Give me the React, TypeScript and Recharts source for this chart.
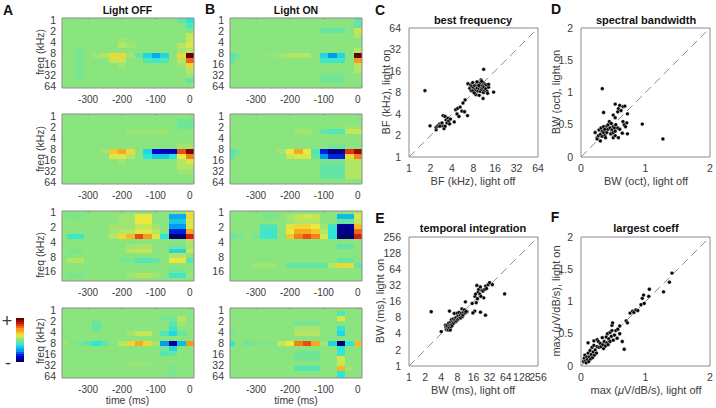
import React from 'react';
import {
  ComposedChart,
  ScatterChart,
  Scatter,
  XAxis,
  YAxis,
  ReferenceArea,
  ReferenceLine,
} from 'recharts';

// heatmap values are in tenths of the colour range, -10 (navy) .. 10 (dark red)
const timeCenters = [-375, -350, -325, -300, -275, -250, -225, -200, -175, -150, -125, -100, -75, -50, -25, 0];
const timeTicks = [-300, -200, -100, 0];
const freqLabels = ['1', '2', '4', '8', '16', '32', '64'];
const freqTickPos = [0.4, 2.6, 4.8, 7.0, 9.3, 11.5, 13.7];
const shortFreqLabels = ['1', '2', '4', '8', '16'];
const shortFreqTickPos = [0.2, 3.25, 6.3, 9.28, 12.2];

const offCellA = [
  [0, 0, 0, 0, 0, 0, 0, 0, 0, 0, 0, 0, 0, 0, -1, -2.5],
  [0, 0, 0, 0, 0, 0, 0, 0, 0, 0, 0, 0, 0, 0, 0, -1.5],
  [0, 0, 0, 0, 0, 0, 0, 0, 0, 0, 0, 0, 0, 0, 0, -0.5],
  [0, 0, 0, 0, 0, 0, 0, 0, 0, 0, 0, 0, 0, 0, 0, 1.5],
  [0, 0, 0, 0, 0, 0, 0, 0.5, 0, 0, 0, 0, 0, 0, 0, 1.5],
  [0, 0, -0.3, 0, 0, 0, 0, 1, 0.5, 0, 0, 0, 0, 0, 1, 2],
  [0, 0, -0.5, 0, 0, 0, 0, 0, 0, 0, 0, 0, 0, 0, 0.5, 1],
  [0, 0, -0.5, 0, 0.5, 1, 3, 3, 0.5, -1, -3, -4.5, -3, 0, 3, 10],
  [0, 0, -0.5, 0, 0, 0, 1.5, 1.5, 0, 0, -1.5, -2, -1.5, 0, 1, 6],
  [0, 0, -0.5, 0, 0, 0, 0, 0.5, 0, 0, 0, 0, 0, 0, 0.5, 3],
  [0, 0, -0.5, 0, 0, 0, 0, 0, 0, 0, 0, 0, 0, 0, 0, 1],
  [0, 0, -0.5, 0, 0, 0, 0, 0, 0, 0, 0, 0, 0, 0, 0, 0.5],
  [0, 0, 0, 0, 0, 0, 0, 0, 0, 0, 0, 0, 0, 0, 0, -1],
  [0, 0, 0, 0, 0, 0, 0, 0, 0, 0, 0, 0, 0, 0, 0, 0],
];
const offCellB = [
  [0, 0, 0, 0, 0, 0, 0, 0, 0, 0, 0, 0, 0, 0, 0, 0],
  [0, 0, 0, 0, 0, 0, 0, 0, 0, 0, 0, 0, 0, 0, -0.7, -0.7],
  [0, 0, 0, 0, 0, 0, 0, 0, 0, 0, 0, 0, 0, 0, -0.7, -0.7],
  [0, 0, 0, 0, 0, 0, 0, 0, 0.4, 0.4, 0.4, 0.4, 0.4, 0, 0, 0],
  [0, 0, 0, 0, 0, 0, 0, 0, 0, 0, 0, 0, 0, 0, 0, 0],
  [0, 0, 0, 0, 0, 0, 0, 0, 0, 0, 0, 0, 0, 0, 0, 0],
  [0, 0, 0, 0, 0, 0, 0, 0, 0, 0, 0, 0, 0, 0, 0.5, 0.5],
  [0, 0, 0, 0, 0, 0.5, 3.5, 4.5, 3, 0, -3, -7.5, -8, -8, 6.5, 9.5],
  [0, 0, 0, 0, 0, 0, 2, 2, 1, 0, -2.5, -3.5, -3.5, -2.5, 2.5, 5.5],
  [0, 0, 0, 0, 0, 0, 0, 0.5, 0, 0, 0, 0, 0, 0, 1, 2],
  [0, 0, 0, 0, 0, 0, 0, 0, 0, 0, 0, 0, 0, 0, 1, 1],
  [0, 0, 0, 0, 0, 0, 0, 0, 0, 0, 0, 0, 0, 0, 0.5, 0.5],
  [0, 0, 0, 0, 0, 0, 0, 0, 0, 0, 0, 0, 0, 0, 0, 0],
  [0, 0, 0, 0, 0, 0, 0, 0, 0, 0, 0, 0, 0, 0, 0, 0],
];
const offCellC = [
  [0, 0, 0, 0, 0, 0, 0, 0, 0, 0, 0, 0, 0, 0, 0, 2],
  [0, -0.5, -0.5, 0, 0, 0, 0, 0.5, 0.5, 2.5, 2.5, 0, 0, -4.5, -4.5, 3],
  [0, 0, 0, 0, 0, 0, 0, 0.5, 0.5, 2.5, 2.5, 0, 0, -3.5, -3.5, 2],
  [0, 0, 0, 0, 0, 0, 0.5, 0.5, 0.5, 1.5, 1.5, 0.5, 0, -5, -5, 2],
  [0, 0, 0, 0, 0, 0, 0.7, 1, 1, 2, 2, 1, 0, -7, -7, 4.5],
  [0, -2, -2, 0, 0, 0, 1, 3, 4, 6.5, 5, 2, -2.5, -10, -10, 7.5],
  [0, 0, 0, 0, 0, 0, 0, 0, 0, 0, 0, 0, 0, 0, 0, 1],
  [0, 0, 0, 0, 0, 0, 0, 0, 0.5, 0.7, 0.7, 0, 0, -0.5, -0.5, 0.5],
  [0, -0.5, -0.5, 0, 0, 0, 0, 0, 1, 1.5, 1.5, 0, 0, -3, -3, 1.5],
  [0, 0, 0, 0, 0, 0, 0, 0, 0, 0, 0, 0, 0, 1, 1, 0],
  [0, 1, 1, 0, 0, 0, 0, -0.5, -0.5, -1.5, -1.5, -1, 0, 2.5, 2.5, -1.5],
  [0, 0, 0, 0, 0, 0, 0, 0, 0, 0, 0, 0, 0, 0, 0, 0],
  [0, 0, 0, 0, 0, 0, 0, 0, 0, 0, 0, 0, 0, -0.5, -0.5, 0],
  [0, -0.5, -0.5, 0, 0, 0, 0, 0, 0.5, 1, 1, 0.5, 0, -2, -2, 0.3],
  [0, 0, 0, 0, 0, 0, 0, 0, 0, 0, 0, 0, 0, 0, 0, 0],
];
const offCellD = [
  [0, 0, 0, 0, 0, 0, 0, 0, 0, 0, 0, 0, 0, 0, 0, 0],
  [0, 0, 0, 0, 0, 0, 0, 0, 0, 0, 0, 0, 0, 0, 0, 0],
  [0, 0, 0, 0, 0, 0, 0, 0, 0, 0, 0, 0, -0.5, -0.5, 1, 0],
  [0, 0, 0, 0, -1, 0, 0, 0, 0, 0, 0, 0, 0, -1, 0.5, 0],
  [0, 0, 0, 0, -1, 0, 0, 0, 0, 0, 0, 0, 0, -2, 0, 0],
  [0, 0, 0, 0, 0, 0, 0, 0, 0.5, 1.5, 1.5, 0, -1.5, -3, -1, 0],
  [0, 0, 0, 0, 0, 0, 0, 0, 0, 0, 0, 0, 0, 0, 0, 0],
  [0.5, 0, -0.5, -1, -2.5, -1, 0, 1, 3, 4.5, 3, 0.5, -5, -9, -4, 5],
  [0, 0, 0, 0, 0, 0, 0, 0, 0, 0, 0, 0, -0.5, -3, 0, 0],
  [0, 0, 0, 0, 0, 0, 0, 0, 0, 0, 0, 0, -1.5, -1, 0, 0],
  [0, 0, 0, 0, 0, 0, 0, 0, 0, 0, 0, 0, 0, 0, 0, 0],
  [0, 0, 0, 0, 0, 0, 0, 0, 0.3, 0.3, 0.3, 0, 0, 0, 0, 0],
  [0, 0, 0, 0, 0, 0, 0, 0, 0, 0, 0, 0, 0, -0.5, 0, 0],
  [0, 0, 0, 0, 0, 0, 0, 0, 0, 0, 0, 0, 0, -0.5, 0, 0],
];
const onCellA = [
  [0, 0, 0, 0, 0, 0, 0, 0, 0, 0, 0, 0, 0, 0, 0, -1],
  [0, 0, 0, 0, 0, 0, 0, 0, 0, 0, 0, 0, 0, 0, 0, -1],
  [0, 0, 0, 0, 0, 0, 0, 0, 0, 0, 0, -1, -1, -1, 0, 1.5],
  [0, 0, 0, 0, 0, 0, 0, 0, 0, 0, 0, 0, 0, 0, 0, 1],
  [0, 0, 0, 0, 0, 0, 0, 0, 0, 0, 0, 0, 0, 0, 0, 0],
  [0, 0, 0, 0, 0, 0, 0, 0, 0, 0, 0, 0, 0, 0, 0, 0],
  [0, 0, 0, 0, 0, 0, 0, 0, 0, 0, 0, 0, 0, 0, 0, 1],
  [-1.5, -0.5, 0, 0, 0.2, 0.2, 0.5, 1, 1, 1, 0, -3, -5, -3, 0, 10],
  [-1, 0, 0, 0, 0, 0, 0, 0, 0, 0, 0, -2, -2, -2, 0, 5],
  [0, 0, 0, 0, 0, 0, 0, 0, 0, 0, 0, 0, 0, 0, 0, 1],
  [0, 0, 0, 0, 0, 0, 0, 0, 0, 0, 0, 0, 0, 0, 0, 1],
  [0, 0, 0, 0, 0, 0, 0, 0, 0, 0, 0, -0.5, -0.5, -0.5, 0, 0],
  [0, 0, 0, 0, 0, 0, 0, 0, 0, 0, 0, -0.7, -0.7, -0.7, 0, 0],
  [0, 0, 0, 0, 0, 0, 0, 0, 0, 0, 0, 0, 0, 0, 0, 0],
];
const onCellB = [
  [0, 0, 0, 0, 0, 0, 0, 0, 0, 0, 0, 0, 0, 0, 0, 0],
  [0, 0, 0, 0, 0, 0, 0, 0, 0, 0, 0, 0, 0, 0, 0, 0],
  [0, 0, 0, 0, 0, 0, 0, 0, 0, 0, 0, 0, 0, 0, 0.3, 0.3],
  [0, 0, 0, 0, 0, 0, 0, 0, 0.5, 0.5, 0, -1, -1.5, -1.5, 1.5, 1.5],
  [0, 0, 0, 0, 0, 0, 0, 0, 0, 0, 0, 0, 0, 0, 0, 0],
  [0, 0, 0, 0, 0, 0, 0, 0, 0, 0, 0, 0, 0, 0, 0, 0],
  [0, 0, 0, 0, 0, 0, 0, 0, 0, 0, 0, 0, -0.5, -0.5, 0, 0],
  [-1.5, -0.5, 0, 0, 0, 0, 0.5, 2.5, 4.5, 2.5, -1.5, -7, -9.5, -9.5, 7, 9],
  [-1, 0, 0, 0, 0, 0, 0, 1.5, 2, 2, -1, -5, -7, -7, 3, 5.5],
  [0, 0, 0, 0, 0, 0, 0, 0, 0, 0, 0, -0.5, -0.5, -0.5, 1, 1],
  [0, 0, 0, 0, 0, 0, 0, 0, 0, 0, 0, -1, -1, -1, 1, 1],
  [0, 0, 0, 0, 0, 0, 0, 0, 0, 0, 0, -1, -1, -1, 1, 1],
  [0, 0, 0, 0, 0, 0, 0, 0, 0, 0, 0, -1, -1, -1, 1, 1],
  [0, 0, 0, 0, 0, 0, 0, 0, 0, 0, 0, 0, 0, 0, 0, 0],
];
const onCellC = [
  [0, 0, 0, 0, 0, 0, 0, 0, 0, 0, 0, 0, 0, 0, 0, 1],
  [0, 0, 0, 0, -0.5, -0.5, 0, 0.7, 1.5, 1.7, 1.5, 0, 0, -4, -4, 2],
  [0, 0, 0, 0, 0, 0, 0, 0.5, 1, 1, 1, 0, 0, -1, -1, 1.5],
  [0, 0, 0, 0, -1.5, -1.5, 0, 2, 3, 3, 2.5, 0.5, -2, -9, -9, 4],
  [0, 0, 0, 0, -2, -2, 0, 2.5, 4.5, 4.5, 3.5, 1, -2.5, -9.5, -9.5, 6],
  [-1, -0.5, 0, -0.5, -2, -2, 0, 3.5, 5.5, 6.5, 5.5, 2, -2.5, -10, -10, 7.5],
  [0, 0, 0, 0, 0, 0, 0, 0, 0, 0, 0, 0, 0, 0, 0, 0],
  [0, 0, 0, 0, 0, 0, 0, 0, 0, 0, 0, 0, 0, -1, -1, 0],
  [0, 0, 0, 0, 0, 0, 0, 0, 0, 0, 0, 0, 0, 0, 0, 0],
  [0, 0, 0, 0, 0, 0, 0, 0, 0, 0, 0, 0, 0, 0, 0, 0],
  [0, 0, 0, 0, 0, 0, 0, 0, 0, 0, 0, 0, 0, -1, -1, 0],
  [0, 0, 0, 0.5, 0.5, 0.5, 0, -1, -1, -1, -1, -1, 1, 3, 3, -1],
  [0, 0, 0, 0, 0, 0, 0, 0, 0, 0, 0, 0, 0, 0, 0, 0],
  [0, 0, 0, 0, 0, 0, 0, 0, 0, 0, 0, 0, 0, 0, 0, 0],
  [0, 0, 0, 0, 0, 0, 0, 0, 0, 0, 0, 0, 0, 0, 0, 0],
];
const onCellD = [
  [0, 0, 0, 0, 0, 0, 0, 0, 0, 0, 0, 0, 0, 0, 0, 0],
  [0, 0, 0, 0, 0, 0, 0, 0, 0, 0, 0, 0, 0, -1.5, 0, 0],
  [0, 0, 0, 0, 0, 0, 0, 0, 0, 0, 0, 0, 0, 2, 0, 0],
  [0, 0, 0, 0, 0, 0, 0, 0, -0.5, -0.5, -0.5, 0, 0, 0, 0, 0],
  [0, 0, 0, 0, 0, 0, 0, 0, 0.7, 0.7, 0.7, 0, 0, -2.5, 0, 0],
  [-0.5, 0, 0, 0, 0, 0, 0, 0, 1, 1, 1, 0, 0, -3, 0, 0],
  [0, 0, 0, 0, 0, 0, 0, 0, 0, 0, 0, 0, 0, 0, 0, 0],
  [-2.5, 0, -0.8, -0.3, -0.3, -0.3, 1.5, 2.5, 5.5, 6.5, 4.5, 0.5, -3, -10, -2.5, 4],
  [0, 0, 0, 0, 0, 0, 0, 0, 0, 0, 0, 0, 0, -2.5, 0, 0],
  [0, 0, 0, 0, 0, 0, 0, 0, -0.7, -0.7, -0.7, 0, 0, -2, 0, 0],
  [0, 0, 0, 0, 0, 0, 0, 0, -0.7, -0.7, -0.7, 0, 0, 2, 0, 0],
  [0, 0, 0, 0, 0, 0, 0, 0, 0, 0, 0, 0, 0, 1.5, 0, 0],
  [0, 0, 0, 0, 0, 0, 0, 0, -1.5, -1.5, -1.5, 0, 0, 4, 0.5, 0],
  [0, 0, 0, 0, 0, 0, 0, 0, 0, 0, 0, 0, 0, -2.5, 0, 0],
];
const colorbarLevels = [-10, -9, -8, -7, -6, -5, -4, -3, -2, -1, 0, 1, 2, 3, 4, 5, 6, 7, 8, 9, 10];

const octTicks = [1, 2, 4, 8, 16, 32, 64];
const msTicks = [1, 2, 4, 8, 16, 32, 64, 128, 256];
const bwTicks = [0, 0.5, 1, 1.5, 2];
const bwXTicks = [0, 1, 2];

const bfOff = [1.67, 1.97, 11.1, 15.3, 10.9, 2.4, 2.4, 2.5, 2.6, 2.7, 2.8, 2.9, 3.0, 3.1, 3.2, 3.0, 3.2, 3.3, 3.4, 3.5, 3.6, 3.7, 2.7, 3.8, 4.3, 4.5, 4.7, 4.8, 5.0, 5.2, 5.5, 5.7, 6.0, 6.1, 6.6, 6.7, 7.1, 7.3, 7.4, 7.6, 7.8, 8, 8, 8.3, 8.5, 8.6, 8.8, 8.9, 9, 9.2, 9.4, 9.6, 9.6, 9.8, 10, 10, 10.2, 10.4, 10.6, 10.8, 11, 11, 11.2, 11.5, 11.7, 11.9, 12.2, 12.4, 12.6, 13, 13, 7.8, 8.2, 9, 9.5, 10.4];
const bfOn = [8.5, 2.73, 16.9, 8.1, 6.6, 2.4, 2.6, 2.7, 2.8, 2.9, 2.8, 3.0, 2.7, 2.5, 2.7, 3.8, 3.7, 3.3, 3.0, 3.5, 3.2, 2.9, 2.7, 3.4, 3.1, 4.6, 4.0, 4.8, 3.7, 5.0, 4.4, 5.7, 4.3, 6.3, 3.8, 10.6, 9.2, 10.2, 8.5, 9.8, 11, 8.2, 9.4, 10, 8.8, 7.5, 11.1, 10, 9.2, 8.4, 10.3, 7.3, 9.1, 10.6, 8.3, 9.6, 12, 8.8, 10, 9.2, 8, 11, 9.6, 8.6, 10.4, 9, 10.2, 8.3, 7.8, 9.5, 10.4, 8.4, 7.9, 11.3, 10, 11.5];

const sbwOff = [0.33, 0.35, 0.95, 1.27, 0.53, 0.58, 0.6, 0.57, 0.62, 0.65, 0.68, 0.72, 0.5, 0.53, 0.71, 0.67, 0.65, 0.69, 0.72, 0.64, 0.58, 0.5, 0.53, 0.47, 0.22, 0.25, 0.25, 0.27, 0.28, 0.3, 0.3, 0.31, 0.33, 0.33, 0.35, 0.35, 0.37, 0.37, 0.38, 0.4, 0.4, 0.42, 0.42, 0.44, 0.45, 0.46, 0.47, 0.48, 0.5, 0.5, 0.52, 0.53, 0.54, 0.57, 0.6];
const sbwOn = [1.06, 0.69, 0.51, 0.28, 0.82, 0.75, 0.8, 0.7, 0.72, 0.78, 0.79, 0.67, 0.65, 0.61, 0.53, 0.5, 0.55, 0.47, 0.36, 0.37, 0.3, 0.3, 0.33, 0.36, 0.38, 0.3, 0.28, 0.33, 0.42, 0.25, 0.35, 0.45, 0.4, 0.32, 0.38, 0.47, 0.33, 0.43, 0.3, 0.38, 0.48, 0.5, 0.43, 0.55, 0.45, 0.36, 0.52, 0.42, 0.47, 0.38, 0.45, 0.4, 0.5, 0.45, 0.43];

const tiOff = [2.6, 61, 26.8, 21.6, 16.9, 15.6, 24.9, 11.3, 15.1, 5.7, 12.1, 4, 4.8, 4.9, 5, 5.1, 5.3, 5.4, 5.5, 5.6, 5.8, 5.9, 6, 6.1, 6.2, 6.3, 6.4, 6.6, 6.7, 6.8, 7, 7.1, 7.3, 7.5, 7.7, 7.9, 8, 8.2, 8.4, 8.6, 8.8, 9, 9.2, 9.5, 9.7, 9.9, 10.2, 10.4, 10.8, 11.2, 11.6, 17, 17.5, 18, 18.5, 19, 19.5, 20, 21, 21.5, 22, 23, 24, 26, 27, 28, 30, 32, 36];
const tiOn = [10.3, 22.2, 8.9, 10.1, 10.6, 9.8, 18.7, 15.8, 14.7, 10.6, 10.3, 4.4, 5.8, 5.3, 4.8, 5.6, 5, 4.7, 6.3, 5.2, 5.8, 4.7, 6.6, 5.4, 7.3, 6, 5.7, 6.8, 7.6, 6.3, 9.6, 7.2, 6.7, 8, 6.9, 9.7, 7.3, 8.6, 7.6, 10, 8, 8.8, 7.9, 9.6, 11.7, 8.4, 9, 10.1, 11.2, 9.8, 10.4, 20, 22, 15.2, 32, 18, 24, 27, 22, 30, 20, 26, 25, 27, 31, 28, 33, 36, 33];

const coefOff = [0.04, 0.05, 0.06, 0.07, 0.08, 0.09, 0.1, 0.11, 0.11, 0.12, 0.13, 0.14, 0.15, 0.16, 0.17, 0.18, 0.19, 0.2, 0.2, 0.21, 0.22, 0.24, 0.25, 0.25, 0.27, 0.28, 0.3, 0.31, 0.33, 0.34, 0.35, 0.36, 0.38, 0.39, 0.4, 0.41, 0.42, 0.43, 0.45, 0.45, 0.47, 0.48, 0.49, 0.48, 0.5, 0.52, 0.54, 0.56, 0.57, 0.6, 0.6, 0.64, 0.67, 0.7, 0.72, 0.76, 0.8, 0.82, 0.85, 0.88, 0.93, 0.95, 0.97, 0.98, 1.05, 1.06, 1.28, 1.37, 1.41];
const coefOn = [0.07, 0.12, 0.17, 0.08, 0.05, 0.14, 0.1, 0.36, 0.2, 0.07, 0.14, 0.24, 0.11, 0.18, 0.29, 0.13, 0.22, 0.32, 0.39, 0.17, 0.25, 0.2, 0.41, 0.3, 0.38, 0.29, 0.35, 0.3, 0.44, 0.33, 0.27, 0.38, 0.31, 0.45, 0.36, 0.5, 0.33, 0.42, 0.52, 0.38, 0.46, 0.63, 0.67, 0.55, 0.4, 0.48, 0.55, 0.43, 0.57, 0.62, 0.5, 0.38, 0.26, 0.7, 0.67, 0.82, 0.85, 0.83, 0.87, 0.86, 0.95, 1.05, 1.1, 0.97, 1.08, 1.19, 1.15, 1.3, 1.44];

const FONT = '"Liberation Sans", Arial, sans-serif';
const INK = '#3c3c3c';
const FRAME = '#8c8c8c';

// muted jet, the source image is a bit washed out
const jetStops = ['#00006e', '#0000d8', '#009cf0', '#2ce6dc', '#8be57e', '#ece83c', '#f89a1c', '#e01a0c', '#640000'];

function jet(tenths: number) {
  const t = (Math.max(-10, Math.min(10, tenths)) + 10) / 20;
  const p = t * (jetStops.length - 1);
  const i = Math.min(Math.floor(p), jetStops.length - 2);
  const f = p - i;
  const hex = (s: string, k: number) => parseInt(s.slice(1 + k * 2, 3 + k * 2), 16);
  const ch = (k: number) => Math.round(hex(jetStops[i], k) * (1 - f) + hex(jetStops[i + 1], k) * f);
  return `rgb(${ch(0)},${ch(1)},${ch(2)})`;
}

const Txt = ({ x, y, children, size = 11, bold = false, rotate = false }: any) => (
  <div
    style={{
      position: 'absolute',
      left: x,
      top: y,
      transform: `translate(-50%, -50%)${rotate ? ' rotate(-90deg)' : ''}`,
      fontFamily: FONT,
      fontSize: size,
      fontWeight: bold ? 700 : 400,
      color: bold ? '#111' : INK,
      whiteSpace: 'nowrap',
      lineHeight: 1,
    }}
  >
    {children}
  </div>
);

const X_MIN = -377;
const X_MAX = 12.5;

interface HeatProps {
  left: number;
  top: number;
  matrix: number[][];
  yDomain: [number, number];
  rowShift: number;
  tickPos: number[];
  tickLabels: string[];
}

function Heat({ left, top, matrix, yDomain, rowShift, tickPos, tickLabels }: HeatProps) {
  const yw = 30;
  return (
    <div style={{ position: 'absolute', left: left - yw, top: top - 4 }}>
      <ComposedChart width={yw + 132 + 4} height={4 + 70 + 20} margin={{ top: 4, right: 4, left: 0, bottom: 0 }} data={[]}>
        <XAxis
          type="number"
          dataKey="t"
          domain={[X_MIN, X_MAX]}
          ticks={timeTicks}
          interval={0}
          height={20}
          axisLine={false}
          tickLine={false}
          tickMargin={2}
          tick={{ fontSize: 10, fill: INK, fontFamily: FONT }}
          allowDataOverflow
        />
        <YAxis
          type="number"
          reversed
          domain={yDomain}
          ticks={tickPos}
          interval={0}
          width={yw}
          axisLine={false}
          tickLine={false}
          tickMargin={0}
          tickFormatter={(v: number) => tickLabels[tickPos.indexOf(v)]}
          tick={{ fontSize: 10.5, fill: INK, fontFamily: FONT }}
          allowDataOverflow
        />
        {matrix.map((row, r) =>
          row.map((v, c) => (
            <ReferenceArea
              key={`${r}-${c}`}
              x1={Math.max(X_MIN, timeCenters[c] - 12.5)}
              x2={Math.min(X_MAX, timeCenters[c] + 12.5)}
              y1={Math.max(yDomain[0], r + rowShift)}
              y2={r === matrix.length - 1 ? yDomain[1] : Math.min(yDomain[1], r + rowShift + 1)}
              fill={jet(v)}
              fillOpacity={1}
              stroke="none"
              shapeRendering="crispEdges"
            />
          )),
        )}
        {timeTicks.map((t) => (
          <ReferenceLine
            key={t}
            segment={[
              { x: t, y: yDomain[0] },
              { x: t, y: yDomain[0] + 0.25 },
            ]}
            stroke="#5f7f5f"
            strokeWidth={0.7}
          />
        ))}
        <ReferenceArea x1={X_MIN} x2={X_MAX} y1={yDomain[0]} y2={yDomain[1]} fill="none" stroke={FRAME} strokeWidth={1} />
      </ComposedChart>
    </div>
  );
}

const Dot = ({ cx, cy }: any) => <circle cx={cx} cy={cy} r={1.9} fill="#000" stroke="#fff" strokeWidth={0.4} />;

interface ScatterProps {
  left: number;
  top: number;
  xs: number[];
  ys: number[];
  log?: boolean;
  domain: [number, number];
  xTicks: number[];
  yTicks: number[];
}

function Dots({ left, top, xs, ys, log, domain, xTicks, yTicks }: ScatterProps) {
  const yw = 28;
  const pts = xs.map((x, i) => ({ x, y: ys[i] }));
  const scale = log ? 'log' : 'linear';
  return (
    <div style={{ position: 'absolute', left: left - yw, top: top - 6 }}>
      <ScatterChart width={yw + 129 + 6 + 6} height={6 + 129 + 20} margin={{ top: 6, right: 12, left: 0, bottom: 0 }}>
        <XAxis
          type="number"
          dataKey="x"
          scale={scale}
          domain={domain}
          ticks={xTicks}
          interval={0}
          height={20}
          axisLine={false}
          tickLine={false}
          tickMargin={2}
          tick={{ fontSize: 10.5, fill: INK, fontFamily: FONT }}
          allowDataOverflow
        />
        <YAxis
          type="number"
          dataKey="y"
          scale={scale}
          domain={domain}
          ticks={yTicks}
          interval={0}
          width={yw}
          axisLine={false}
          tickLine={false}
          tickMargin={2}
          tick={{ fontSize: 10.5, fill: INK, fontFamily: FONT }}
          allowDataOverflow
        />
        <ReferenceLine
          segment={[
            { x: domain[0], y: domain[0] },
            { x: domain[1], y: domain[1] },
          ]}
          stroke="#8f8f8f"
          strokeWidth={1}
          strokeDasharray="8 5"
        />
        <Scatter data={pts} shape={Dot} isAnimationActive={false} />
        <ReferenceArea x1={domain[0]} x2={domain[1]} y1={domain[0]} y2={domain[1]} fill="none" stroke={FRAME} strokeWidth={1} />
      </ScatterChart>
    </div>
  );
}

function Colorbar() {
  return (
    <div style={{ position: 'absolute', left: 16, top: 318 }}>
      <ComposedChart width={8} height={44} margin={{ top: 0, right: 0, left: 0, bottom: 0 }} data={[]}>
        <XAxis type="number" dataKey="t" hide domain={[0, 1]} allowDataOverflow />
        <YAxis type="number" hide domain={[-10.5, 10.5]} allowDataOverflow />
        {colorbarLevels.map((v) => (
          <ReferenceArea key={v} x1={0} x2={1} y1={v - 0.5} y2={v + 0.5} fill={jet(v)} fillOpacity={1} stroke="none" shapeRendering="crispEdges" />
        ))}
      </ComposedChart>
    </div>
  );
}

const full = { yDomain: [0, 14] as [number, number], rowShift: 0, tickPos: freqTickPos, tickLabels: freqLabels };
const lifted = { ...full, rowShift: -0.4 };
const short = { yDomain: [-0.14, 14.1] as [number, number], rowShift: -0.5, tickPos: shortFreqTickPos, tickLabels: shortFreqLabels };

export default function App() {
  const colA = 62;
  const colB = 230;
  return (
    <div style={{ position: 'absolute', left: 0, top: 0, width: 716, height: 408, background: '#fff', overflow: 'hidden' }}>
      <Heat left={colA} top={17.5} matrix={offCellA} {...full} />
      <Heat left={colA} top={113.5} matrix={offCellB} {...full} />
      <Heat left={colA} top={210.5} matrix={offCellC} {...short} />
      <Heat left={colA} top={307.5} matrix={offCellD} {...lifted} />
      <Heat left={colB} top={17.5} matrix={onCellA} {...full} />
      <Heat left={colB} top={113.5} matrix={onCellB} {...full} />
      <Heat left={colB} top={210.5} matrix={onCellC} {...short} />
      <Heat left={colB} top={307.5} matrix={onCellD} {...lifted} />
      <Colorbar />

      <Dots left={408.5} top={28} xs={bfOff} ys={bfOn} log domain={[1, 64]} xTicks={octTicks} yTicks={octTicks} />
      <Dots left={581} top={28} xs={sbwOff} ys={sbwOn} domain={[0, 2]} xTicks={bwXTicks} yTicks={bwTicks} />
      <Dots left={408.5} top={236.5} xs={tiOff} ys={tiOn} log domain={[1, 256]} xTicks={msTicks} yTicks={msTicks} />
      <Dots left={581} top={236.5} xs={coefOff} ys={coefOn} domain={[0, 2]} xTicks={bwXTicks} yTicks={bwTicks} />

      <Txt x={8} y={9.5} size={14} bold>A</Txt>
      <Txt x={210} y={9} size={14} bold>B</Txt>
      <Txt x={380} y={10} size={14} bold>C</Txt>
      <Txt x={556} y={9} size={14} bold>D</Txt>
      <Txt x={380} y={218} size={14} bold>E</Txt>
      <Txt x={555} y={217} size={14} bold>F</Txt>

      <Txt x={127.5} y={10} size={10.5} bold>Light OFF</Txt>
      <Txt x={296} y={10} size={10.5} bold>Light ON</Txt>
      <Txt x={473} y={20} bold>best frequency</Txt>
      <Txt x={646} y={20} bold>spectral bandwidth</Txt>
      <Txt x={473} y={228} bold>temporal integration</Txt>
      <Txt x={646} y={228} bold>largest coeff</Txt>

      <Txt x={40} y={52} size={10.5} rotate>freq (kHz)</Txt>
      <Txt x={40} y={149} size={10.5} rotate>freq (kHz)</Txt>
      <Txt x={40} y={255} size={10.5} rotate>freq (kHz)</Txt>
      <Txt x={40} y={341} size={10.5} rotate>freq (kHz)</Txt>
      <Txt x={127.5} y={400} size={10.5}>time (ms)</Txt>
      <Txt x={296} y={400} size={10.5}>time (ms)</Txt>

      <Txt x={473} y={181}>BF (kHz), light off</Txt>
      <Txt x={385.5} y={92} rotate>BF (kHz), light on</Txt>
      <Txt x={646} y={181}>BW (oct), light off</Txt>
      <Txt x={556} y={92} rotate>BW (oct), light on</Txt>
      <Txt x={473} y={390}>BW (ms), light off</Txt>
      <Txt x={380} y={300.5} rotate>BW (ms), light on</Txt>
      <Txt x={646} y={390}>max (<i>μ</i>V/dB/s), light off</Txt>
      <Txt x={556} y={300.5} rotate>max (<i>μ</i>V/dB/s), light on</Txt>

      <Txt x={7} y={321} size={18}>+</Txt>
      <Txt x={8} y={363} size={18}>-</Txt>
    </div>
  );
}
